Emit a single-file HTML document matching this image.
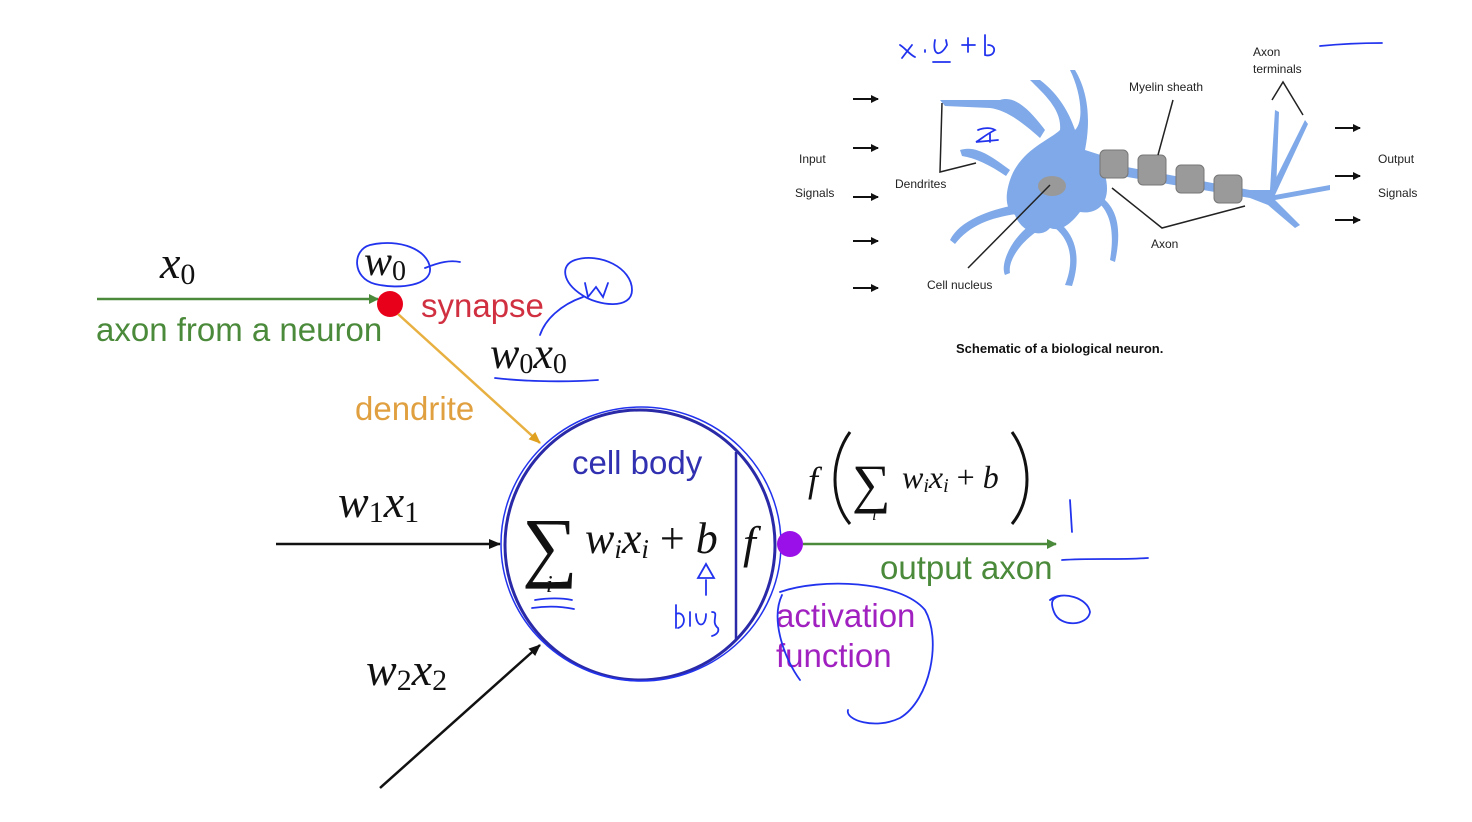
<!DOCTYPE html>
<html><head><meta charset="utf-8"><style>
body{margin:0;background:#fff}
svg{display:block}
.m{font-family:"Liberation Serif",serif;font-style:italic;fill:#111}
.s{font-family:"Liberation Sans",sans-serif}
.h{fill:none;stroke:#2233ee;stroke-width:1.8;stroke-linecap:round}
.t{font-family:"Liberation Sans",sans-serif;font-size:12px;fill:#222}
</style></head><body>
<svg width="1472" height="822" viewBox="0 0 1472 822" xmlns="http://www.w3.org/2000/svg">
<defs>
<marker id="ag" markerWidth="10" markerHeight="10" refX="9" refY="5" orient="auto" markerUnits="userSpaceOnUse"><path d="M0,0L10,5L0,10z" fill="#4a8a3a"/></marker>
<marker id="ab" markerWidth="12" markerHeight="10" refX="11" refY="5" orient="auto" markerUnits="userSpaceOnUse"><path d="M0,0L12,5L0,10z" fill="#111"/></marker>
<marker id="ao" markerWidth="12" markerHeight="10" refX="11" refY="5" orient="auto" markerUnits="userSpaceOnUse"><path d="M0,0L12,5L0,10z" fill="#e0a020"/></marker>
<marker id="ak" markerWidth="8" markerHeight="8" refX="7" refY="4" orient="auto" markerUnits="userSpaceOnUse"><path d="M0,0L8,4L0,8z" fill="#111"/></marker>
</defs>
<!-- left diagram -->
<text x="160" y="278" class="m" font-size="46">x<tspan font-size="30" font-style="normal" dy="6">0</tspan></text>
<line x1="97" y1="299" x2="378" y2="299" stroke="#4a8a3a" stroke-width="2.5" marker-end="url(#ag)"/>
<text x="96" y="341" class="s" font-size="33" fill="#4a8a3a">axon from a neuron</text>
<circle cx="390" cy="304" r="13" fill="#e8001a"/>
<text x="364" y="275" class="m" font-size="42">w<tspan font-size="28" font-style="normal" dy="5">0</tspan></text>
<text x="421" y="317" class="s" font-size="33" fill="#d03040">synapse</text>
<line x1="398" y1="314" x2="540" y2="443" stroke="#e8b040" stroke-width="2.5" marker-end="url(#ao)"/>
<text x="490" y="368" class="m" font-size="44">w<tspan font-size="28" font-style="normal" dy="5">0</tspan><tspan dy="-5">x</tspan><tspan font-size="28" font-style="normal" dy="5">0</tspan></text>
<text x="355" y="420" class="s" font-size="33" fill="#e0a040">dendrite</text>
<text x="338" y="517" class="m" font-size="46">w<tspan font-size="30" font-style="normal" dy="5">1</tspan><tspan dy="-5">x</tspan><tspan font-size="30" font-style="normal" dy="5">1</tspan></text>
<line x1="276" y1="544" x2="500" y2="544" stroke="#111" stroke-width="2.5" marker-end="url(#ab)"/>
<text x="366" y="685" class="m" font-size="46">w<tspan font-size="30" font-style="normal" dy="5">2</tspan><tspan dy="-5">x</tspan><tspan font-size="30" font-style="normal" dy="5">2</tspan></text>
<line x1="380" y1="788" x2="540" y2="645" stroke="#111" stroke-width="2.5" marker-end="url(#ab)"/>
<!-- cell body -->
<circle cx="640" cy="545" r="135" fill="none" stroke="#2a2aa8" stroke-width="3"/>
<ellipse cx="641" cy="544" rx="140" ry="137" fill="none" stroke="#2233ee" stroke-width="1.5"/>
<line x1="736" y1="452" x2="736" y2="640" stroke="#2a2aa8" stroke-width="2.5"/>
<text x="572" y="474" class="s" font-size="33" fill="#3030b0">cell body</text>
<text x="522" y="572" font-family="Liberation Serif,serif" font-size="78" fill="#111">∑</text>
<text x="546" y="592" class="m" font-size="24">i</text>
<text x="585" y="553" class="m" font-size="44">w<tspan font-size="27" dy="5">i</tspan><tspan dy="-5">x</tspan><tspan font-size="27" dy="5">i</tspan><tspan dy="-5" font-style="normal"> + </tspan>b</text>
<text x="743" y="558" class="m" font-size="46">f</text>
<circle cx="790" cy="544" r="13" fill="#9a10e8"/>
<line x1="803" y1="544" x2="1056" y2="544" stroke="#4a8a3a" stroke-width="2.5" marker-end="url(#ag)"/>
<text x="880" y="579" class="s" font-size="33" fill="#4a8a3a">output axon</text>
<text x="776" y="627" class="s" font-size="33" fill="#a020c0">activation</text>
<text x="776" y="667" class="s" font-size="33" fill="#a020c0">function</text>
<text x="808" y="492" class="m" font-size="36">f</text>
<path d="M850,432 C830,460 830,500 850,524" fill="none" stroke="#111" stroke-width="3"/>
<text x="852" y="502" font-family="Liberation Serif,serif" font-size="54" fill="#111">∑</text>
<text x="872" y="520" class="m" font-size="17">i</text>
<text x="902" y="488" class="m" font-size="32">w<tspan font-size="20" dy="4">i</tspan><tspan dy="-4">x</tspan><tspan font-size="20" dy="4">i</tspan><tspan dy="-4" font-style="normal"> + </tspan>b</text>
<path d="M1012,432 C1032,460 1032,500 1012,524" fill="none" stroke="#111" stroke-width="3"/>
<!-- handwriting -->
<path class="h" d="M370,245 C400,238 428,250 430,268 C432,285 400,290 375,284 C352,278 352,250 370,245 M425,268 C440,262 450,260 460,262"/>
<path class="h" d="M575,260 C600,252 632,268 632,290 C632,310 598,306 582,295 C562,282 560,265 575,260 M585,283 L588,297 L596,287 L603,297 L608,283 M583,297 C560,305 545,320 540,335"/>
<path class="h" d="M495,378 C530,382 570,382 598,380"/>
<path class="h" d="M535,600 C548,598 562,598 572,600 M532,608 C546,606 560,606 574,609"/>
<path class="h" d="M706,595 L706,580 M698,578 L706,564 L714,578 Z M676,605 L676,628 M676,614 C684,610 688,625 678,628 M690,612 L690,626 M696,614 C696,628 706,628 706,614 M712,612 C720,612 710,622 718,628 C720,634 712,636 712,636"/>
<path class="h" d="M780,592 C820,578 900,580 925,610 C942,640 930,700 900,718 C875,730 845,720 848,710 M782,595 C770,620 785,660 800,680"/>
<path class="h" d="M1070,500 L1072,532 M1062,560 C1090,558 1120,560 1148,558 M1050,600 C1062,590 1088,598 1090,612 C1088,626 1060,628 1054,612 C1050,602 1052,598 1060,596"/>
<!-- biological neuron -->
<g fill="#7fa9e8" stroke="none">
<path d="M1010,180 C1020,150 1050,140 1060,130 C1062,110 1045,95 1030,80 L1040,80 C1060,95 1070,115 1075,130 C1085,120 1080,90 1070,70 L1075,70 C1090,95 1090,125 1085,150 L1110,158 L1105,175 C1112,200 1100,215 1080,212 C1070,225 1060,232 1050,228 C1040,240 1020,230 1015,215 C1005,210 1005,195 1010,180 Z"/>
<path d="M940,100 L1000,100 C1015,95 1030,110 1045,130 L1040,138 C1020,120 1005,110 990,108 L945,106 Z M960,150 C975,145 990,155 1010,170 L1006,176 C990,165 975,158 962,156 Z M1015,205 C990,210 960,220 950,240 L955,244 C970,225 990,218 1016,214 Z M1030,225 C1010,240 1000,265 1005,275 L1010,273 C1008,262 1018,245 1036,232 Z M1055,228 C1070,240 1075,260 1065,285 L1072,286 C1080,262 1078,240 1062,225 Z M1095,200 C1110,210 1115,230 1110,260 L1115,262 C1122,230 1118,208 1100,196 Z"/>
<path d="M1100,162 L1250,190 L1270,190 L1305,120 L1308,124 L1275,195 L1330,185 L1330,190 L1275,200 L1300,225 L1295,228 L1268,205 L1250,198 L1098,172 Z M1270,190 L1275,110 L1279,112 L1276,192 Z"/>
</g>
<ellipse cx="1052" cy="186" rx="14" ry="10" fill="#999"/>
<g fill="#9a9a9a" stroke="#777" stroke-width="1">
<rect x="1100" y="150" width="28" height="28" rx="5"/>
<rect x="1138" y="155" width="28" height="30" rx="5"/>
<rect x="1176" y="165" width="28" height="28" rx="5"/>
<rect x="1214" y="175" width="28" height="28" rx="5"/>
</g>
<g stroke="#222" stroke-width="1.5" fill="none">
<path d="M942,103 L940,172 L976,163"/>
<path d="M1173,100 L1158,155"/>
<path d="M1272,100 L1283,82 L1303,115"/>
<path d="M1112,188 L1162,228 L1245,206"/>
<path d="M1050,185 L968,268"/>
</g>
<g stroke="#111" stroke-width="2" marker-end="url(#ak)">
<line x1="853" y1="99" x2="878" y2="99"/><line x1="853" y1="148" x2="878" y2="148"/><line x1="853" y1="197" x2="878" y2="197"/><line x1="853" y1="241" x2="878" y2="241"/><line x1="853" y1="288" x2="878" y2="288"/>
<line x1="1335" y1="128" x2="1360" y2="128"/><line x1="1335" y1="176" x2="1360" y2="176"/><line x1="1335" y1="220" x2="1360" y2="220"/>
</g>
<text x="799" y="163" class="t">Input</text>
<text x="795" y="197" class="t">Signals</text>
<text x="895" y="188" class="t">Dendrites</text>
<text x="1129" y="91" class="t">Myelin sheath</text>
<text x="1253" y="56" class="t">Axon</text>
<text x="1253" y="73" class="t">terminals</text>
<text x="1378" y="163" class="t">Output</text>
<text x="1378" y="197" class="t">Signals</text>
<text x="1151" y="248" class="t">Axon</text>
<text x="927" y="289" class="t">Cell nucleus</text>
<text x="956" y="353" font-family="Liberation Sans,sans-serif" font-size="13" font-weight="bold" fill="#111">Schematic of a biological neuron.</text>
<path class="h" d="M900,45 C905,48 910,55 915,57 M912,45 L902,58 M925,50 L925,52 M935,40 C932,55 940,58 947,45 L946,40 M933,62 L950,62 M962,45 L975,45 M968,38 L968,52 M985,35 L985,55 C995,58 998,45 988,45"/>
<path class="h" d="M978,130 C985,127 992,128 995,130 C985,135 980,140 976,142 L998,140 M990,134 L990,142"/>
<path class="h" d="M1320,46 C1340,44 1360,43 1382,43"/>
</svg>
</body></html>
